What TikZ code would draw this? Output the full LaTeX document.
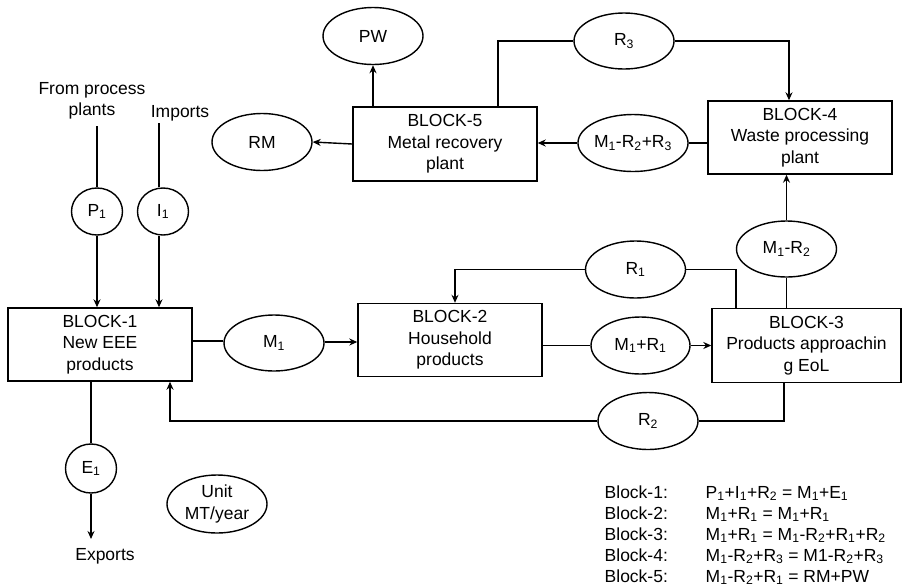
\documentclass[tikz,border=0pt]{standalone}
\usepackage{fontspec}
\setmainfont{Liberation Sans}
\usetikzlibrary{shapes.geometric,arrows.meta}
\newcommand\sbs[1]{\textsubscript{#1}}
\begin{document}
\begin{tikzpicture}[x=1pt,y=-1pt,
  font=\fontsize{17.5}{21.5}\selectfont,
  line width=1.4pt,
  blockbox/.style={draw,rectangle,minimum width=184pt,minimum height=73pt,inner sep=0pt,align=center},
  flowell/.style={draw,ellipse,minimum width=100pt,minimum height=57pt,inner sep=0pt,align=center},
  flowcirc/.style={draw,ellipse,minimum width=51pt,minimum height=48pt,inner sep=0pt},
  plain/.style={inner sep=0pt,align=center},
  arr/.style={-{Stealth[length=8pt,width=7pt]}}]
\useasboundingbox (0,0) rectangle (902,587);
% blocks
\node[blockbox] (b1) at (100,344.5) {BLOCK-1\\New EEE\\products};
\node[blockbox] (b2) at (450,340) {BLOCK-2\\Household\\products};
\node[blockbox,minimum width=189pt,minimum height=74pt] (b3) at (806.5,345.5) {BLOCK-3\\Products approachin\\g EoL};
\node[blockbox] (b4) at (800,137.5) {BLOCK-4\\Waste processing\\plant};
\node[blockbox,minimum height=74pt] (b5) at (445,144) {BLOCK-5\\Metal recovery\\plant};
% ellipses
\node[flowell] (pw) at (373,36) {PW};
\node[flowell] (rm) at (262,142) {RM};
\node[flowell,minimum height=56pt] (r3) at (624,41) {R\sbs{3}};
\node[flowell] (mrr) at (633,143) {M\sbs{1}-R\sbs{2}+R\sbs{3}};
\node[flowell,minimum height=56pt] (mr2) at (786.5,249) {M\sbs{1}-R\sbs{2}};
\node[flowell] (r1) at (635.5,269.5) {R\sbs{1}};
\node[flowell,minimum height=56pt] (m1) at (274,343) {M\sbs{1}};
\node[flowell,minimum width=99pt] (mr1) at (640.5,345.5) {M\sbs{1}+R\sbs{1}};
\node[flowell] (r2) at (648,421) {R\sbs{2}};
\node[flowell,minimum height=58pt,align=center] (unit) at (217,504) {Unit\\MT/year};
\node[flowcirc,minimum height=47pt] (p1) at (97,211.5) {P\sbs{1}};
\node[flowcirc,minimum height=47pt] (i1) at (163,211.5) {I\sbs{1}};
\node[flowcirc,minimum height=49pt] (e1) at (91,468.5) {E\sbs{1}};
% texts
\node[plain] (fpp) at (92,101) {From process\\plants};
\node[plain] (imp) at (180,113) {Imports};
\node[plain] (exp) at (105,556) {Exports};
\coordinate (fppb) at (97,126);
\coordinate (impb) at (159,123);
\coordinate (expt) at (91,539);
% connectors
\draw (fppb) -- (p1.north);
\draw[arr] (p1.south) -- (p1.south |- b1.north);
\draw (impb) -- (impb |- i1.north);
\draw[arr] (impb |- i1.south) -- (impb |- b1.north);
\draw[arr] (b5.north -| pw) -- (pw.south);
\draw[arr] (b5.west) -- (rm.east);
\coordinate (r3l) at (498,41);
\coordinate (r3r) at (789,41);
\draw (r3l |- b5.north) -- (r3l) -- (r3.west);
\draw[arr] (r3.east) -- (r3r) -- (r3r |- b4.north);
\draw (b4.west |- mrr) -- (mrr.east);
\draw[arr] (mrr.west) -- (b5.east |- mrr);
\draw (mr2 |- b3.north) -- (mr2.south);
\draw[arr] (mr2.north) -- (mr2 |- b4.south);
\coordinate (r1r) at (736,269.5);
\coordinate (r1l) at (455,269.5);
\draw (r1r |- b3.north) -- (r1r) -- (r1.east);
\draw[arr] (r1.west) -- (r1l) -- (r1l |- b2.north);
\draw (b1.east |- 0,341) -- (m1.west |- 0,341);
\draw[arr] (m1.east |- 0,342) -- (b2.west |- 0,342);
\draw (b2.east |- mr1) -- (mr1.west);
\draw[arr] (mr1.east) -- (b3.west |- mr1);
\coordinate (r2r) at (784,421);
\coordinate (r2l) at (170,421);
\draw (r2r |- b3.south) -- (r2r) -- (r2.east);
\draw[arr] (r2.west) -- (r2l) -- (r2l |- b1.south);
\draw (e1 |- b1.south) -- (e1.north);
\draw[arr] (e1.south) -- (expt);
% equations
\node[plain,anchor=base west] (l1) at (604,498) {Block-1:};
\node[plain,anchor=base west] (l2) at (604,519) {Block-2:};
\node[plain,anchor=base west] (l3) at (604,540) {Block-3:};
\node[plain,anchor=base west] (l4) at (604,561) {Block-4:};
\node[plain,anchor=base west] (l5) at (604,582) {Block-5:};
\node[plain,anchor=base west] (q1) at (705,498) {P\sbs{1}+I\sbs{1}+R\sbs{2} = M\sbs{1}+E\sbs{1}};
\node[plain,anchor=base west] (q2) at (705,519) {M\sbs{1}+R\sbs{1} = M\sbs{1}+R\sbs{1}};
\node[plain,anchor=base west] (q3) at (705,540) {M\sbs{1}+R\sbs{1} = M\sbs{1}-R\sbs{2}+R\sbs{1}+R\sbs{2}};
\node[plain,anchor=base west] (q4) at (705,561) {M\sbs{1}-R\sbs{2}+R\sbs{3} = M1-R\sbs{2}+R\sbs{3}};
\node[plain,anchor=base west] (q5) at (705,582) {M\sbs{1}-R\sbs{2}+R\sbs{1} = RM+PW};
\end{tikzpicture}
\end{document}
